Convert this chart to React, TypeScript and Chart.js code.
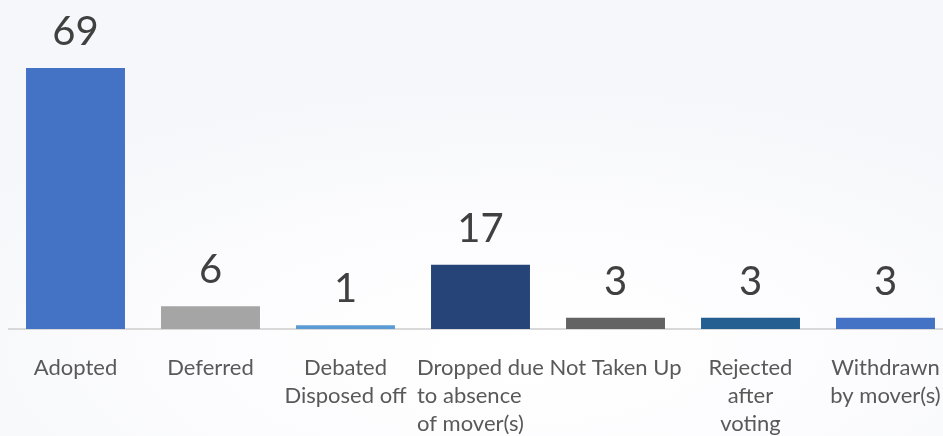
import React, { useEffect, useRef } from "react";
import { Chart, registerables } from "chart.js";

Chart.register(...registerables);

const categories: string[][] = [
  ["Adopted"],
  ["Deferred"],
  ["Debated", "Disposed off"],
  ["Dropped due", "to absence", "of mover(s)"],
  ["Not Taken Up"],
  ["Rejected", "after", "voting"],
  ["Withdrawn", "by mover(s)"],
];
const values: number[] = [69, 6, 1, 17, 3, 3, 3];
const barColors: string[] = ["#4472c4", "#a5a5a5", "#5b9bd5", "#264478", "#636363", "#255e91", "#4472c4"];
const labelAlign: CanvasTextAlign[] = ["center", "center", "center", "left", "center", "center", "center"];

const labelPlugin = {
  id: "customLabels",
  afterDraw(chart: any) {
    const ctx = chart.ctx as CanvasRenderingContext2D;
    const meta = chart.getDatasetMeta(0);
    ctx.save();
    ctx.fillStyle = "#404040";
    ctx.font = "40px Lato";
    ctx.textAlign = "center";
    ctx.textBaseline = "alphabetic";
    meta.data.forEach((bar: any, i: number) => {
      ctx.fillText(String(values[i]), bar.x, bar.y - 23);
    });
    const xScale = chart.scales.x;
    const bottom = chart.chartArea.bottom;
    ctx.fillStyle = "#595959";
    ctx.font = "22px Lato";
    ctx.textBaseline = "middle";
    categories.forEach((lines, i) => {
      const cx = xScale.getPixelForValue(i);
      const maxW = Math.max(...lines.map((l) => ctx.measureText(l).width));
      lines.forEach((line, k) => {
        const y = bottom + 39 + k * 28;
        if (labelAlign[i] === "left") {
          ctx.textAlign = "left";
          ctx.fillText(line, cx - maxW / 2, y);
        } else {
          ctx.textAlign = "center";
          ctx.fillText(line, cx, y);
        }
      });
    });
    ctx.restore();
  },
};

export default function App() {
  const ref = useRef<HTMLCanvasElement | null>(null);
  useEffect(() => {
    if (!ref.current) return;
    const chart = new Chart(ref.current, {
      type: "bar",
      data: {
        labels: categories.map((c) => c.join(" ")),
        datasets: [
          {
            data: values,
            backgroundColor: barColors,
            borderWidth: 0,
            barPercentage: 1,
            categoryPercentage: 0.733,
          },
        ],
      },
      options: {
        responsive: false,
        animation: false,
        layout: { padding: { top: 60, bottom: 99, left: 0, right: 0 } },
        plugins: { legend: { display: false }, tooltip: { enabled: false } },
        scales: {
          x: {
            grid: { display: false },
            ticks: { display: false },
            border: { display: true, color: "#d9d9d9", width: 2 },
          },
          y: { display: false, min: 0, max: 69 },
        },
      },
      plugins: [labelPlugin],
    });
    return () => chart.destroy();
  }, []);
  return (
    <div
      style={{
        position: "fixed",
        inset: 0,
        background: "radial-gradient(ellipse 70% 60% at 55% 80%, #ffffff 0%, #fcfcfe 50%, #f6f7fa 100%)",
        overflow: "hidden",
      }}
    >
      <canvas
        ref={ref}
        width={945}
        height={428}
        style={{ position: "absolute", left: 8, top: 8, width: 945, height: 428 }}
      />
    </div>
  );
}
